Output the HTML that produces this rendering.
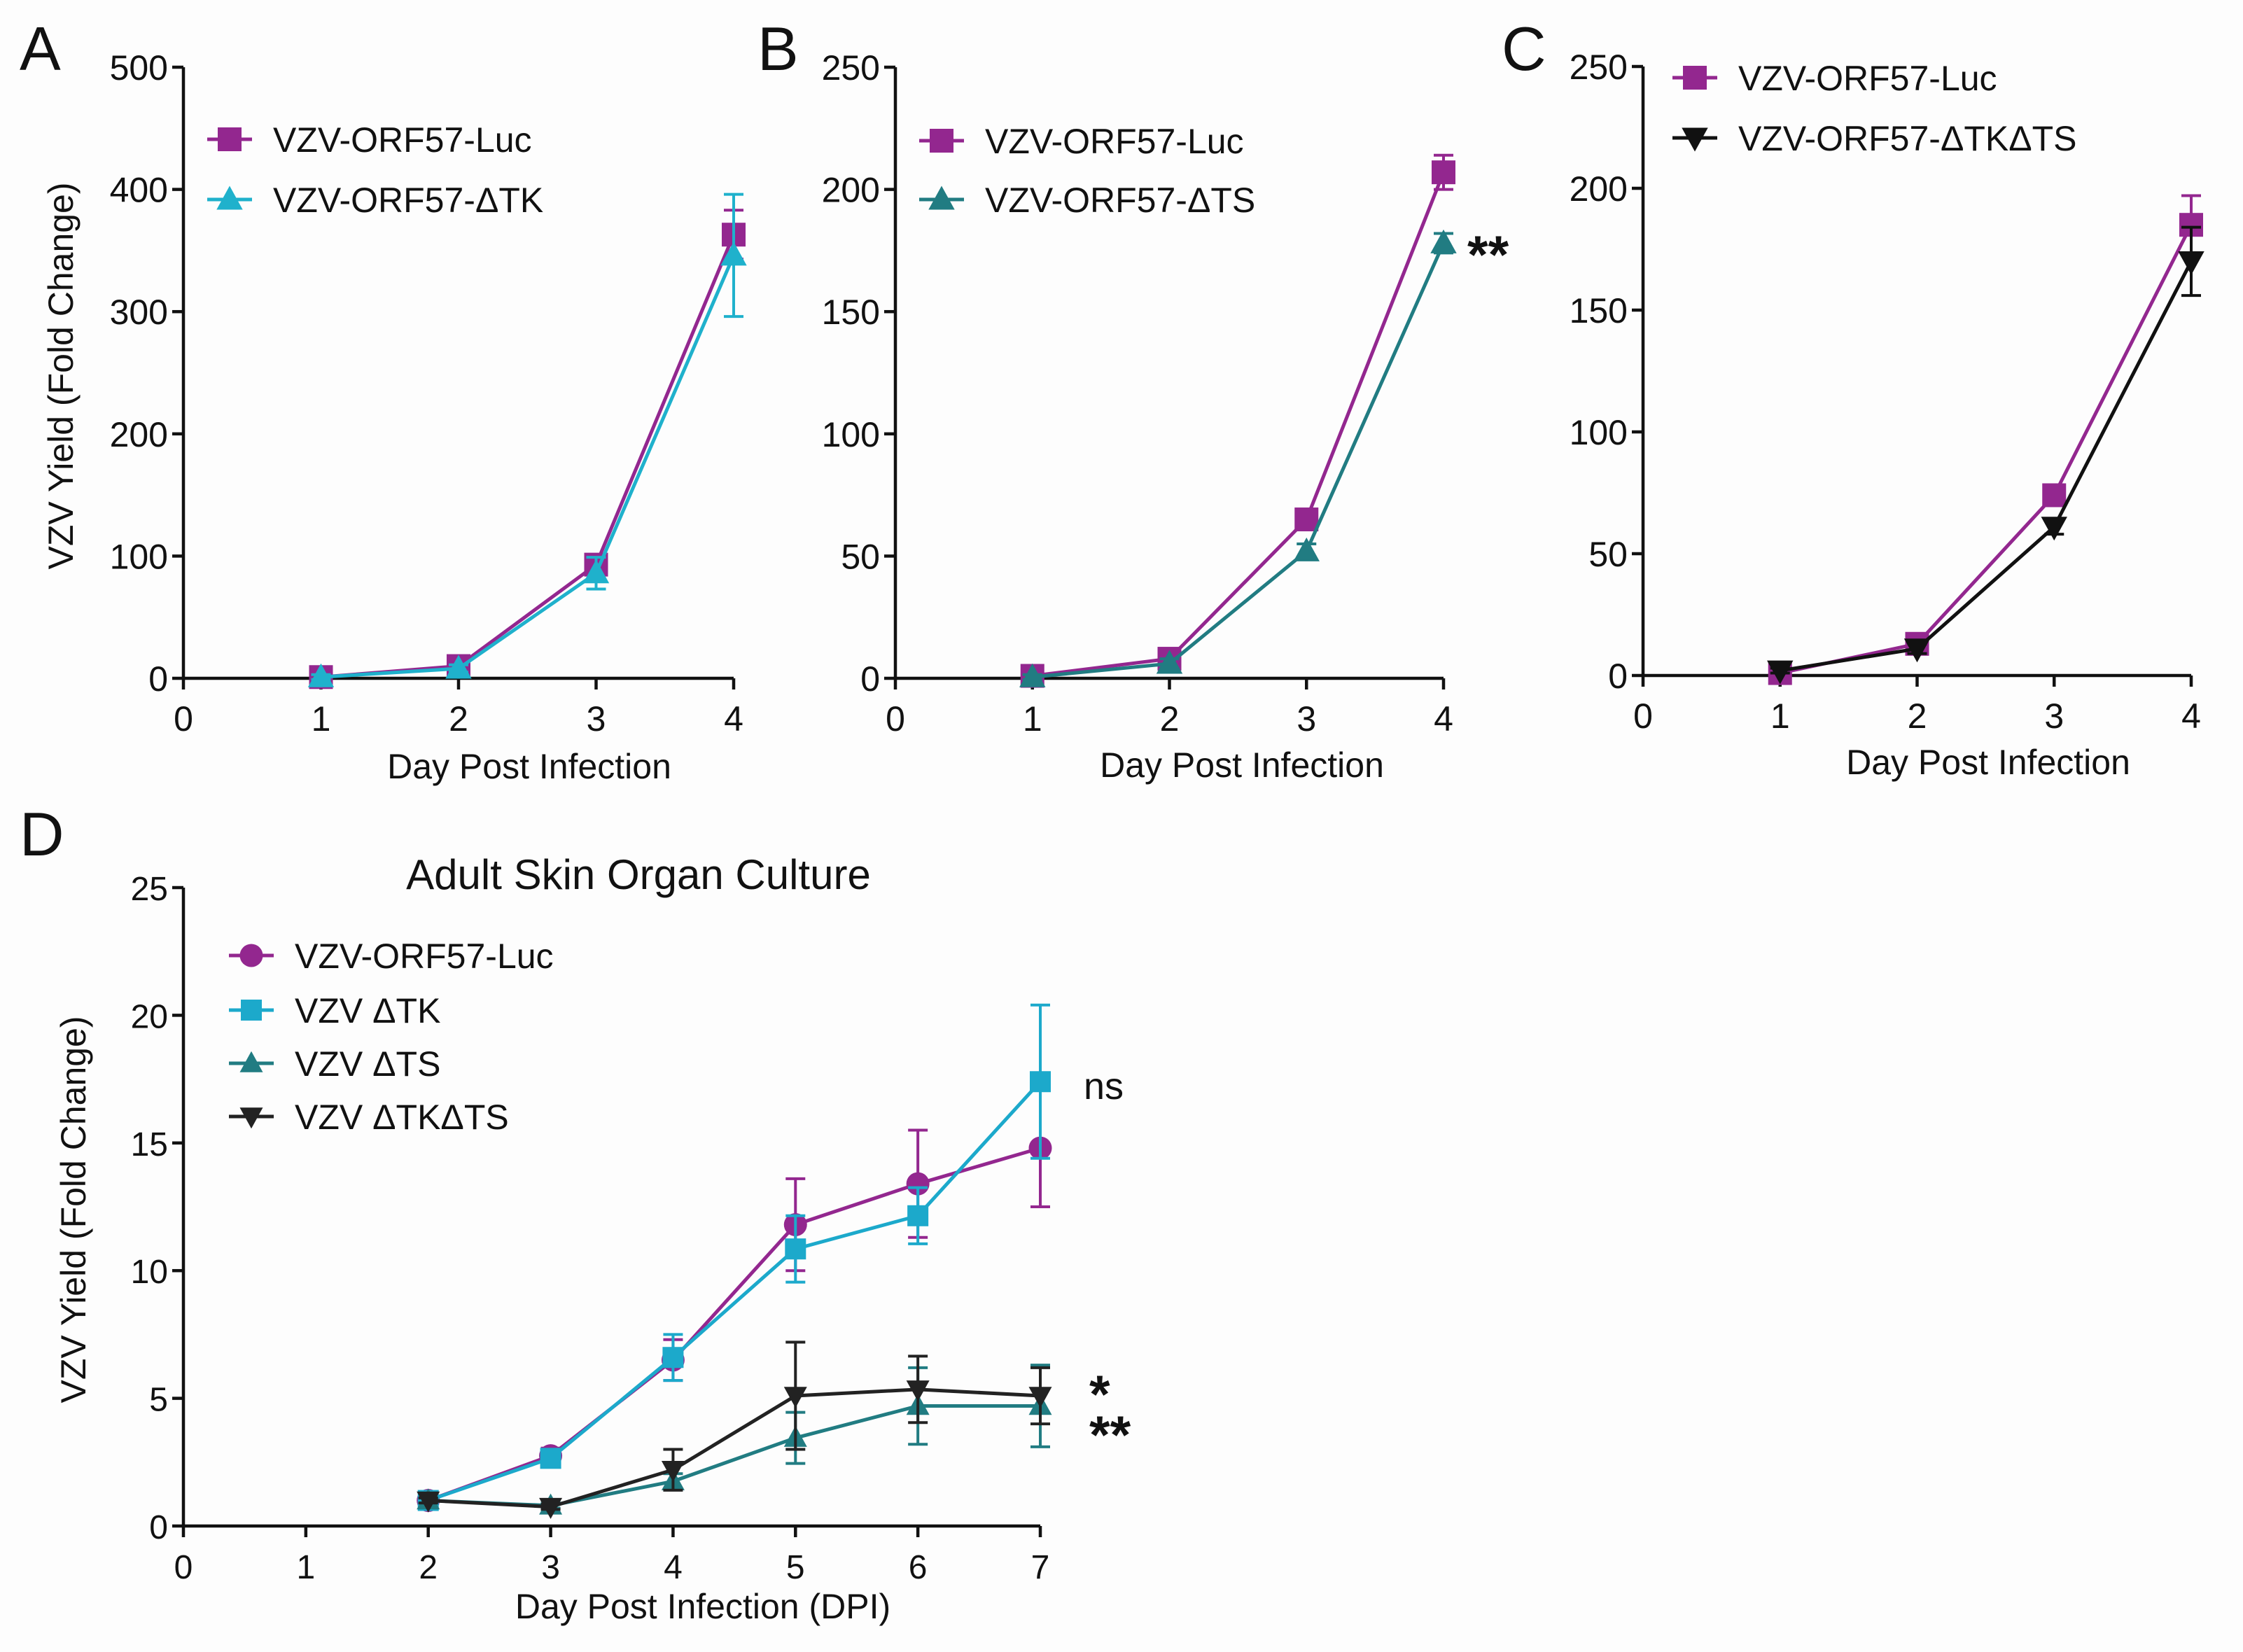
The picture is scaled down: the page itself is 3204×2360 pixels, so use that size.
<!DOCTYPE html>
<html><head><meta charset="utf-8"><style>
html,body{margin:0;padding:0;background:#fff;}
svg{display:block;font-family:"Liberation Sans",sans-serif;}
</style></head><body>
<svg id="fig" width="3204" height="2360" viewBox="0 0 3204 2360" xmlns="http://www.w3.org/2000/svg">
<rect width="3204" height="2360" fill="#fdfdfd"/>
</svg>
<script>
// ---- data ----
const daysABC = [1, 2, 3, 4];
const aLuc = [1, 10, 93, 363];
const aLucErr = [2, 3, 8, 20];
const aTK = [1, 8, 86, 346];
const aTKErr = [2, 3, 13, 50];
const bLuc = [1, 8, 65, 207];
const bLucErr = [1, 2, 3, 7];
const bTS = [0.5, 6, 52, 178];
const bTSErr = [1, 2, 3, 4];
const cLuc = [1, 13, 74, 185];
const cLucErr = [1, 2, 3, 12];
const cTKTS = [2, 11, 61, 170];
const cTKTSErr = [1, 2, 3, 14];
const daysD = [2, 3, 4, 5, 6, 7];
const dLuc = [1, 2.75, 6.5, 11.8, 13.4, 14.8];
const dLucErr = [0.2, 0.3, 0.8, 1.8, 2.1, 2.3];
const dTK = [1, 2.65, 6.6, 10.85, 12.15, 17.4];
const dTKErr = [0.2, 0.3, 0.9, 1.3, 1.1, 3.0];
const dTS = [1, 0.8, 1.75, 3.45, 4.7, 4.7];
const dTSErr = [0.1, 0.1, 0.3, 1.0, 1.5, 1.6];
const dTKTS = [1, 0.75, 2.2, 5.1, 5.35, 5.1];
const dTKTSErr = [0.1, 0.1, 0.8, 2.1, 1.3, 1.1];
const ticksA = [0, 100, 200, 300, 400, 500];
const ticksBC = [0, 50, 100, 150, 200, 250];
const ticksD = [0, 5, 10, 15, 20, 25];
const xTicksABC = [0, 1, 2, 3, 4];
const xTicksD = [0, 1, 2, 3, 4, 5, 6, 7];

const NS = "http://www.w3.org/2000/svg";
const svg = document.getElementById('fig');
const PUR = "#93278f", CYA = "#1fb1cc", TEAL = "#217c82", BLK = "#111";
function mk(tag, attrs, parent, text) {
  const e = document.createElementNS(NS, tag);
  for (const k in attrs) e.setAttribute(k, attrs[k]);
  if (text !== undefined) e.textContent = text;
  (parent || svg).appendChild(e);
  return e;
}
function marker(g, shape, x, y, color, s) {
  let m;
  if (shape === 'square') m = mk('rect', {x: x - s, y: y - s, width: 2 * s, height: 2 * s, fill: color}, g);
  else if (shape === 'circle') m = mk('circle', {cx: x, cy: y, r: s * 1.1, fill: color}, g);
  else if (shape === 'tri') m = mk('polygon', {points: `${x},${y - s * 1.15} ${x - s * 1.1},${y + s * 0.85} ${x + s * 1.1},${y + s * 0.85}`, fill: color}, g);
  else m = mk('polygon', {points: `${x},${y + s * 1.15} ${x - s * 1.1},${y - s * 0.85} ${x + s * 1.1},${y - s * 0.85}`, fill: color}, g);
  
  
  return m;
}
function panel(cfg) {
  const g = mk('g', {}, svg);
  
  
  const X = v => cfg.x0 + (v - cfg.xmin) / (cfg.xmax - cfg.xmin) * (cfg.x1 - cfg.x0);
  const Y = v => cfg.y0 - (v - cfg.ymin) / (cfg.ymax - cfg.ymin) * (cfg.y0 - cfg.y1);
  const ax = mk('g', {stroke: "#111", 'stroke-width': 4.5}, g);
  
  
  mk('line', {x1: cfg.x0, y1: cfg.y1, x2: cfg.x0, y2: cfg.y0}, ax);
  mk('line', {x1: cfg.x0, y1: cfg.y0, x2: cfg.x1, y2: cfg.y0}, ax);
  cfg.yticks.forEach(t => {
    mk('line', {x1: cfg.x0 - 16, y1: Y(t), x2: cfg.x0, y2: Y(t)}, ax);
    const tl = mk('text', {x: cfg.x0 - 22, y: Y(t) + 18, 'text-anchor': 'end', 'font-size': cfg.fs, fill: '#111'}, g, String(t));
    
    
  });
  cfg.xticks.forEach(t => {
    mk('line', {x1: X(t), y1: cfg.y0, x2: X(t), y2: cfg.y0 + 16}, ax);
    const tl = mk('text', {x: X(t), y: cfg.y0 + 75, 'text-anchor': 'middle', 'font-size': cfg.fs, fill: '#111'}, g, String(t));
    
    
  });
  const xt = mk('text', {x: cfg.xtx, y: cfg.xty, 'text-anchor': 'middle', 'font-size': cfg.tfs, fill: '#111'}, g, cfg.xtitle);
  
  
  if (cfg.ytitle) {
    const yt = mk('text', {x: 0, y: 0, 'text-anchor': 'middle', 'font-size': cfg.tfs, fill: '#111', transform: `translate(${cfg.ytx},${cfg.yty}) rotate(-90)`}, g, cfg.ytitle);
    
    
  }
  const lt = mk('text', {x: cfg.lx, y: cfg.ly, 'font-size': 88, fill: '#111'}, g, cfg.letter);
  
  
  cfg.series.forEach((s, si) => {
    const sg = mk('g', {}, g);
    
    
    s.vals.forEach((v, i) => {
      const e = s.err[i], x = X(cfg.days[i]);
      const eg = mk('g', {stroke: s.color, 'stroke-width': 4}, sg);
      
      
      mk('line', {x1: x, y1: Y(v + e), x2: x, y2: Y(v - e)}, eg);
      mk('line', {x1: x - 14, y1: Y(v + e), x2: x + 14, y2: Y(v + e)}, eg);
      mk('line', {x1: x - 14, y1: Y(v - e), x2: x + 14, y2: Y(v - e)}, eg);
    });
    const pl = mk('polyline', {points: s.vals.map((v, i) => X(cfg.days[i]) + ',' + Y(v)).join(' '), fill: 'none', stroke: s.color, 'stroke-width': 5}, sg);
    
    
    s.vals.forEach((v, i) => marker(sg, s.shape, X(cfg.days[i]), Y(v), s.color, cfg.ms));
    const ly = cfg.legY[si];
    const lg = mk('g', {}, g);
    
    
    mk('line', {x1: cfg.legX - 32, y1: ly, x2: cfg.legX + 32, y2: ly, stroke: s.color, 'stroke-width': 5}, lg);
    marker(lg, s.shape, cfg.legX, ly, s.color, cfg.ms);
    mk('text', {x: cfg.legX + 62, y: ly + 18, 'font-size': cfg.lfs, fill: '#111'}, lg, s.label);
  });
  (cfg.notes || []).forEach(n => {
    const t = mk('text', {x: n[0], y: n[1], 'font-size': n[3] || 56, 'font-weight': n[4] || 'normal', fill: '#111'}, g, n[2]);
    
    
  });
  if (cfg.title) {
    const t = mk('text', {x: cfg.title[0], y: cfg.title[1], 'text-anchor': 'middle', 'font-size': 60, fill: '#111'}, g, cfg.title[2]);
    
    
  }
}
panel({name: 'panel-a', letter: 'A', lx: 28, ly: 100, x0: 262, x1: 1048, y0: 969, y1: 96, xmin: 0, xmax: 4, ymin: 0, ymax: 500,
  yticks: ticksA, xticks: xTicksABC, days: daysABC, fs: 50, tfs: 50, lfs: 50, ms: 17,
  xtitle: 'Day Post Infection', xtx: 756, xty: 1112, ytitle: 'VZV Yield (Fold Change)', ytx: 104, yty: 537,
  legX: 328, legY: [199, 285],
  series: [
    {key: 'luc', label: 'VZV-ORF57-Luc', vals: aLuc, err: aLucErr, color: PUR, shape: 'square'},
    {key: 'dtk', label: 'VZV-ORF57-\u0394TK', vals: aTK, err: aTKErr, color: CYA, shape: 'tri'}]});
panel({name: 'panel-b', letter: 'B', lx: 1082, ly: 100, x0: 1279, x1: 2062, y0: 969, y1: 96, xmin: 0, xmax: 4, ymin: 0, ymax: 250,
  yticks: ticksBC, xticks: xTicksABC, days: daysABC, fs: 50, tfs: 50, lfs: 50, ms: 17,
  xtitle: 'Day Post Infection', xtx: 1774, xty: 1110,
  legX: 1345, legY: [201, 285],
  notes: [[2096, 390, '**', 76, 'bold']],
  series: [
    {key: 'luc', label: 'VZV-ORF57-Luc', vals: bLuc, err: bLucErr, color: PUR, shape: 'square'},
    {key: 'dts', label: 'VZV-ORF57-\u0394TS', vals: bTS, err: bTSErr, color: TEAL, shape: 'tri'}]});
panel({name: 'panel-c', letter: 'C', lx: 2145, ly: 100, x0: 2347, x1: 3130, y0: 965, y1: 95, xmin: 0, xmax: 4, ymin: 0, ymax: 250,
  yticks: ticksBC, xticks: xTicksABC, days: daysABC, fs: 50, tfs: 50, lfs: 50, ms: 17,
  xtitle: 'Day Post Infection', xtx: 2840, xty: 1106,
  legX: 2421, legY: [111, 197],
  series: [
    {key: 'luc', label: 'VZV-ORF57-Luc', vals: cLuc, err: cLucErr, color: PUR, shape: 'square'},
    {key: 'dtkdts', label: 'VZV-ORF57-\u0394TK\u0394TS', vals: cTKTS, err: cTKTSErr, color: BLK, shape: 'itri'}]});
panel({name: 'panel-d', letter: 'D', lx: 28, ly: 1222, x0: 262, x1: 1486, y0: 2180, y1: 1268, xmin: 0, xmax: 7, ymin: 0, ymax: 25,
  yticks: ticksD, xticks: xTicksD, days: daysD, fs: 48, tfs: 50, lfs: 50, ms: 15,
  xtitle: 'Day Post Infection (DPI)', xtx: 1004, xty: 2312, ytitle: 'VZV Yield (Fold Change)', ytx: 122, yty: 1728,
  legX: 359, legY: [1365, 1443, 1519, 1595],
  title: [912, 1270, 'Adult Skin Organ Culture'],
  notes: [[1548, 1570, 'ns', 54], [1556, 2018, '*', 76, 'bold'], [1556, 2076, '**', 76, 'bold']],
  series: [
    {key: 'luc', label: 'VZV-ORF57-Luc', vals: dLuc, err: dLucErr, color: PUR, shape: 'circle'},
    {key: 'dtk', label: 'VZV \u0394TK', vals: dTK, err: dTKErr, color: '#1ca9cb', shape: 'square'},
    {key: 'dts', label: 'VZV \u0394TS', vals: dTS, err: dTSErr, color: TEAL, shape: 'tri'},
    {key: 'dtkdts', label: 'VZV \u0394TK\u0394TS', vals: dTKTS, err: dTKTSErr, color: '#222', shape: 'itri'}]});
</script>
</body></html>
